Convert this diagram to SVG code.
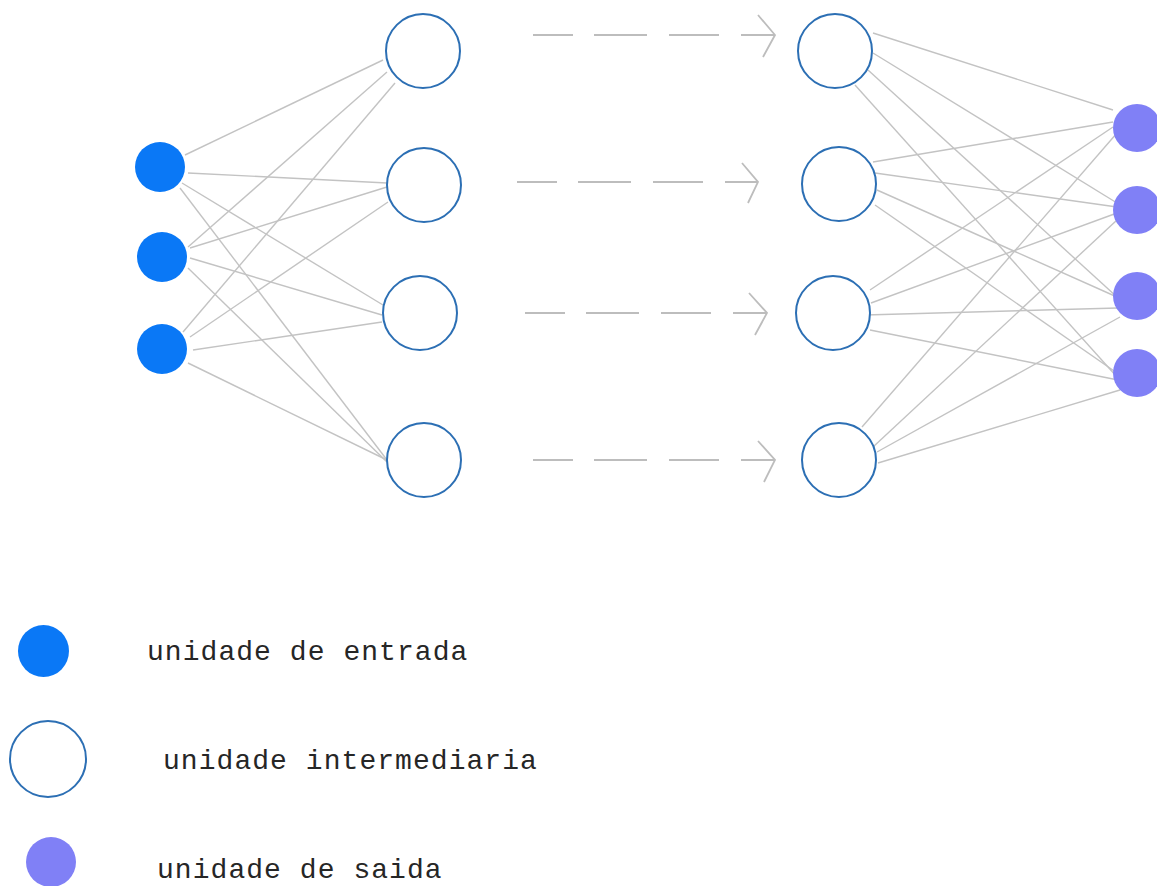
<svg xmlns="http://www.w3.org/2000/svg" width="1157" height="886" viewBox="0 0 1157 886">
  <defs>
    <style>
      .link { stroke: #c3c3c3; stroke-width: 1.4; fill: none; }
      .flow { stroke: #bdbdbd; stroke-width: 2; fill: none; stroke-dasharray: 40 21 53 22 50 22 200; }
      .head { stroke: #bdbdbd; stroke-width: 1.8; fill: none; }
      .in { fill: #0a78f6; }
      .hid { fill: #ffffff; stroke: #2c6fb4; stroke-width: 2; }
      .out { fill: #8080f6; }
      .lbl { font-family: "Liberation Mono", "DejaVu Sans Mono", monospace; font-size: 28px; letter-spacing: 1.05px; fill: #262626; }
    </style>
  </defs>
  <rect width="1157" height="886" fill="#ffffff"/>

  <!-- weights between layers -->
  <g id="connectors">
    <!-- input layer to first hidden layer -->
    <line class="link" x1="185" y1="155" x2="383" y2="60"/>
    <line class="link" x1="188" y1="173" x2="387" y2="183"/>
    <line class="link" x1="182" y1="183" x2="383" y2="305"/>
    <line class="link" x1="180" y1="188" x2="387" y2="460"/>
    <line class="link" x1="188" y1="247" x2="387" y2="72"/>
    <line class="link" x1="190" y1="248" x2="387" y2="187"/>
    <line class="link" x1="190" y1="258" x2="382" y2="315"/>
    <line class="link" x1="188" y1="268" x2="387" y2="462"/>
    <line class="link" x1="183" y1="332" x2="395" y2="83"/>
    <line class="link" x1="190" y1="337" x2="388" y2="202"/>
    <line class="link" x1="193" y1="350" x2="382" y2="322"/>
    <line class="link" x1="188" y1="363" x2="387" y2="460"/>

    <!-- last hidden layer to output layer -->
    <line class="link" x1="873" y1="33" x2="1113" y2="110"/>
    <line class="link" x1="873" y1="53" x2="1117" y2="203"/>
    <line class="link" x1="868" y1="70" x2="1117" y2="297"/>
    <line class="link" x1="855" y1="85" x2="1117" y2="377"/>
    <line class="link" x1="873" y1="162" x2="1113" y2="122"/>
    <line class="link" x1="875" y1="173" x2="1117" y2="207"/>
    <line class="link" x1="877" y1="190" x2="1117" y2="297"/>
    <line class="link" x1="875" y1="205" x2="1117" y2="373"/>
    <line class="link" x1="870" y1="290" x2="1113" y2="127"/>
    <line class="link" x1="871" y1="303" x2="1117" y2="213"/>
    <line class="link" x1="865" y1="315" x2="1118" y2="308"/>
    <line class="link" x1="870" y1="330" x2="1118" y2="380"/>
    <line class="link" x1="862" y1="427" x2="1117" y2="133"/>
    <line class="link" x1="873" y1="447" x2="1117" y2="220"/>
    <line class="link" x1="877" y1="452" x2="1120" y2="317"/>
    <line class="link" x1="878" y1="463" x2="1120" y2="390"/>

    <!-- dashed arrows across the omitted hidden layers -->
    <path class="flow" d="M533 35 H775"/>
    <path class="head" d="M758 15 L775 35 L763 57"/>
    <path class="flow" d="M517 182 H758"/>
    <path class="head" d="M742 163 L758 182 L748 203"/>
    <path class="flow" d="M525 313 H767"/>
    <path class="head" d="M749 293 L767 313 L755 335"/>
    <path class="flow" d="M533 460 H775"/>
    <path class="head" d="M758 441 L775 460 L764 482"/>
  </g>

  <!-- input units -->
  <g id="in1"><circle class="in" cx="160" cy="167" r="25"/></g>
  <g id="in2"><circle class="in" cx="162" cy="257" r="25"/></g>
  <g id="in3"><circle class="in" cx="162" cy="349" r="25"/></g>

  <!-- first hidden layer -->
  <g id="h1"><circle class="hid" cx="423" cy="51" r="37"/></g>
  <g id="h2"><circle class="hid" cx="424" cy="185" r="37"/></g>
  <g id="h3"><circle class="hid" cx="420" cy="313" r="37"/></g>
  <g id="h4"><circle class="hid" cx="424" cy="460" r="37"/></g>

  <!-- last hidden layer -->
  <g id="h5"><circle class="hid" cx="835" cy="51" r="37"/></g>
  <g id="h6"><circle class="hid" cx="839" cy="184" r="37"/></g>
  <g id="h7"><circle class="hid" cx="833" cy="313" r="37"/></g>
  <g id="h8"><circle class="hid" cx="839" cy="460" r="37"/></g>

  <!-- output units -->
  <g id="out1"><circle class="out" cx="1137" cy="128" r="24"/></g>
  <g id="out2"><circle class="out" cx="1137" cy="210" r="24"/></g>
  <g id="out3"><circle class="out" cx="1137" cy="296" r="24"/></g>
  <g id="out4"><circle class="out" cx="1137" cy="373" r="24"/></g>

  <!-- legend -->
  <g id="legend-in">
    <ellipse class="in" cx="43.5" cy="651" rx="25.5" ry="26"/>
    <text class="lbl" x="147" y="660">unidade de entrada</text>
  </g>
  <g id="legend-hid">
    <circle class="hid" cx="48" cy="759" r="38"/>
    <text class="lbl" x="163" y="769">unidade intermediaria</text>
  </g>
  <g id="legend-out">
    <circle class="out" cx="51" cy="862" r="25"/>
    <text class="lbl" x="157" y="878">unidade de saida</text>
  </g>
</svg>
